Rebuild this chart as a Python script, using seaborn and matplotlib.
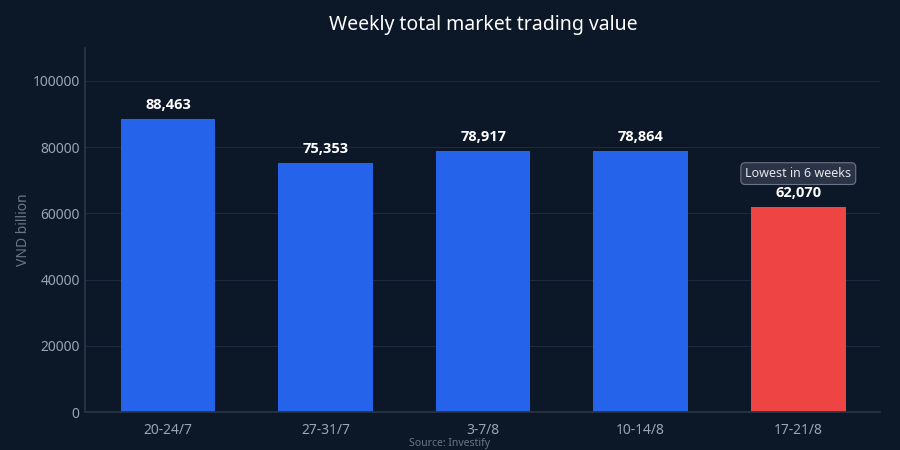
import matplotlib
matplotlib.use("Agg")
import matplotlib.pyplot as plt
import seaborn as sns
import pandas as pd

weeks = ["20-24/7", "27-31/7", "3-7/8", "10-14/8", "17-21/8"]
values = [88463, 75353, 78917, 78864, 62070]
labels = ["88,463", "75,353", "78,917", "78,864", "62,070"]
colors = ["#2563eb", "#2563eb", "#2563eb", "#2563eb", "#ef4444"]

bg = "#0c1727"
sns.set_theme(style="dark")
plt.rcParams['font.family'] = ['Noto Sans', 'DejaVu Sans']

fig = plt.figure(figsize=(9, 4.5), dpi=100, facecolor=bg)
ax = fig.add_axes([0.094, 0.084, 0.884, 0.81])
ax.set_facecolor(bg)
df = pd.DataFrame({"week": weeks, "value": values})
sns.barplot(data=df, x="week", y="value", hue="week", palette=colors, legend=False,
            width=0.6, ax=ax, saturation=1, edgecolor="none", linewidth=0)
ax.set_xlim(-0.53, 4.52)
ax.set_ylim(0, 110000)
ax.set_yticks([0, 20000, 40000, 60000, 80000, 100000])
ax.set_yticklabels(["0", "20000", "40000", "60000", "80000", "100000"])
ax.grid(axis="y", color="#1e2a3b", linewidth=0.8)
ax.grid(axis="x", visible=False)
ax.set_axisbelow(True)
for s in ["top", "right"]:
    ax.spines[s].set_visible(False)
ax.spines["left"].set_color("#2a3446")
ax.spines["bottom"].set_color("#2a3446")
ax.tick_params(colors="#9aa4b2", labelsize=10, length=4)
ax.tick_params(axis="x", colors="#2a3446", labelcolor="#9aa4b2")
ax.tick_params(axis="y", length=0)
ax.set_xlabel("")
ax.set_ylabel("VND billion", color="#6b7585", fontsize=10, labelpad=1)
for i, (v, l) in enumerate(zip(values, labels)):
    ax.text(i, v + 2000, l, ha="center", va="bottom", color="white", fontsize=10.5,
            fontweight="bold", family=["Open Sans", "DejaVu Sans"])
ax.text(4, 72000, "Lowest in 6 weeks", ha="center", va="center", color="#e5e7eb", fontsize=9,
        bbox=dict(boxstyle="round,pad=0.35", fc="#2a3446", ec="#6b7585", lw=0.8))
fig.text(0.537, 0.945, "Weekly total market trading value", ha="center", va="center",
         color="white", fontsize=14)
fig.text(0.5, 0.015, "Source: Investify", ha="center", va="center", color="#6b7585", fontsize=7.5)
fig.savefig("out.png", facecolor=bg)
